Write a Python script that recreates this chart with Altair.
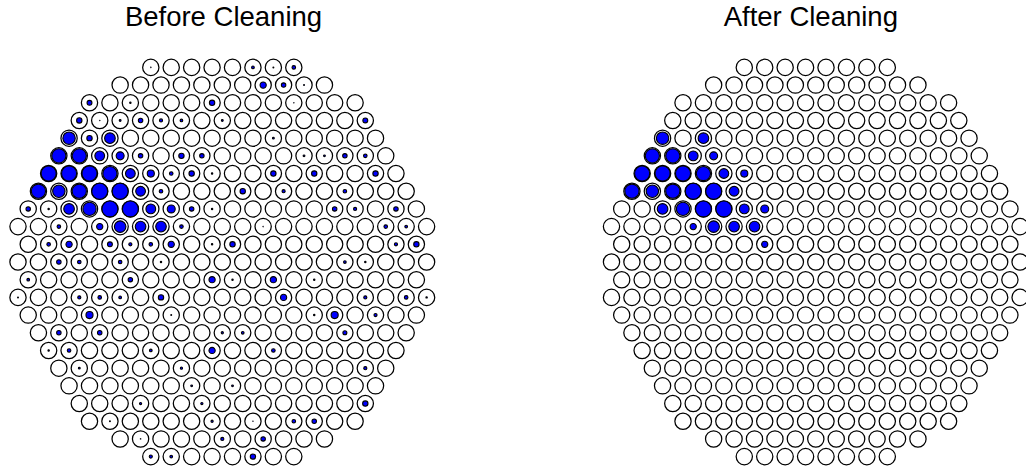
import math

import altair as alt
import pandas as pd

# Camera layout: number of pixels in each hexagonal row, top to bottom
ROW_COUNTS = [8, 11, 14, 15, 16, 17, 18, 19, 20, 21, 20, 21,
              20, 21, 20, 19, 18, 17, 16, 15, 14, 11, 8]

# Pixels with signal in the raw image: row index, column within row, photo-electrons
HIT_ROW = [0, 0, 0, 0,
           1, 1, 1,
           2, 2, 2, 2,
           3, 3, 3, 3, 3, 3, 3, 3,
           4, 4, 4, 4,
           5, 5, 5, 5, 5, 5, 5, 5, 5, 5, 5,
           6, 6, 6, 6, 6, 6, 6, 6, 6, 6, 6, 6,
           7, 7, 7, 7, 7, 7, 7, 7, 7, 7,
           8, 8, 8, 8, 8, 8, 8, 8, 8, 8, 8, 8, 8,
           9, 9, 9, 9, 9, 9, 9, 9, 9,
           10, 10, 10, 10, 10, 10, 10, 10, 10, 10,
           11, 11, 11, 11, 11, 11,
           12, 12, 12, 12, 12, 12,
           13, 13, 13, 13, 13, 13, 13, 13, 13,
           14, 14, 14, 14, 14,
           15, 15, 15, 15, 15,
           16, 16, 16, 16, 16,
           17, 17, 17,
           18, 18,
           19, 19, 19,
           20, 20, 20, 20, 20,
           21, 21, 21,
           22, 22, 22]
HIT_COL = [0, 5, 6, 7,
           7, 8, 9,
           0, 2, 6, 10,
           0, 1, 2, 3, 4, 5, 7, 14,
           0, 1, 2, 10,
           0, 1, 2, 3, 4, 6, 7, 12, 13, 14, 15,
           0, 1, 2, 3, 4, 5, 6, 7, 8, 11, 13, 16,
           0, 1, 2, 3, 4, 5, 6, 10, 12, 15,
           0, 1, 2, 3, 4, 5, 6, 7, 8, 9, 15, 16, 18,
           2, 4, 5, 6, 7, 8, 12, 18, 19,
           1, 2, 4, 5, 6, 7, 9, 10, 18, 19,
           2, 3, 5, 7, 16, 17,
           0, 5, 9, 10, 12, 14,
           0, 3, 4, 5, 7, 13, 17, 19, 20,
           3, 7, 14, 15, 17,
           1, 3, 9, 10, 15,
           0, 1, 5, 8, 11,
           1, 6, 15,
           6, 8,
           3, 6, 14,
           1, 6, 8, 10, 11,
           1, 5, 7,
           0, 1, 5]
HIT_PE = [0.1, 2.6, 0.3, 4.7,
          14.3, 7.3, 0.3,
          8.8, 0.7, 10.5, 0.1,
          10.5, 0.1, 1.2, 7.3, 3.6, 2.6, 1.2, 8.8,
          57.0, 10.5, 41.9, 1.2,
          74.5, 74.5, 35.2, 23.6, 7.3, 10.5, 7.3, 1.2, 1.2, 7.3, 4.7,
          84.1, 84.1, 84.1, 74.5, 35.2, 18.6, 4.7, 10.5, 0.7, 10.5, 10.5, 10.5,
          74.5, 57.0, 74.5, 94.3, 94.3, 35.2, 4.7, 10.5, 3.6, 4.7,
          7.3, 0.7, 41.9, 65.5, 94.3, 94.3, 35.2, 23.6, 7.3, 0.7, 7.3, 3.6, 7.3,
          4.7, 14.3, 49.2, 41.9, 41.9, 4.7, 0.1, 4.7, 2.6,
          4.7, 14.3, 8.8, 3.6, 4.7, 14.3, 0.7, 10.5, 3.6, 10.5,
          7.3, 4.7, 4.7, 0.7, 2.6, 0.7,
          2.6, 7.3, 14.3, 0.7, 14.3, 0.7,
          0.3, 3.6, 4.7, 2.6, 10.5, 14.3, 3.6, 4.7, 0.7,
          18.6, 0.3, 0.7, 18.6, 3.6,
          7.3, 7.3, 1.8, 2.6, 5.9,
          0.7, 4.7, 2.6, 14.3, 4.7,
          1.2, 1.8, 3.6,
          1.2, 1.2,
          1.8, 1.8, 10.5,
          0.3, 1.8, 0.1, 4.7, 7.3,
          0.1, 3.6, 7.3,
          3.6, 2.6, 10.5]

# Pixels that survive the image cleaning
KEPT_ROW = [4, 4, 5, 5, 5, 5, 6, 6, 6, 6, 6, 6, 7, 7, 7, 7, 7, 7,
            8, 8, 8, 8, 8, 8, 9, 9, 9, 9, 10]
KEPT_COL = [0, 2, 0, 1, 2, 3, 0, 1, 2, 3, 4, 5, 0, 1, 2, 3, 4, 5,
            2, 3, 4, 5, 6, 7, 4, 5, 6, 7, 7]

PANEL_TITLES = ["Before Cleaning", "After Cleaning"]

# Drawing geometry (screen pixels)
WIDTH, HEIGHT = 1026, 469
PITCH_PX = 20.43             # distance between neighbouring pixel centres
LEFT_CENTER_PX = 222.3       # horizontal centre of the first camera
PANEL_GAP_PX = 593.5         # horizontal distance between the two cameras
MID_ROW_PX = 262.0           # vertical centre of the camera
TITLE_X_PX = [223.5, 810.8]  # centres of the panel headings
CENTER_ROW = 11
PANEL_GAP = PANEL_GAP_PX / PITCH_PX

signal = {(r, c): pe for r, c, pe in zip(HIT_ROW, HIT_COL, HIT_PE)}
kept = set(zip(KEPT_ROW, KEPT_COL))

records = []
for p, title in enumerate(PANEL_TITLES):
    for r, n in enumerate(ROW_COUNTS):
        for c in range(n):
            pe = signal.get((r, c), 0.0)
            if p == 1 and (r, c) not in kept:
                pe = 0.0
            records.append({
                "panel": title,
                "x": c - (n - 1) / 2 + p * PANEL_GAP,
                "y": (CENTER_ROW - r) * math.sqrt(3) / 2,
                "pe": pe,
            })
pixels = pd.DataFrame(records)

x_scale = alt.Scale(domain=[-LEFT_CENTER_PX / PITCH_PX,
                            (WIDTH - LEFT_CENTER_PX) / PITCH_PX],
                    nice=False, zero=False)
y_scale = alt.Scale(domain=[-(HEIGHT - MID_ROW_PX) / PITCH_PX,
                            MID_ROW_PX / PITCH_PX],
                    nice=False, zero=False)
X = alt.X("x:Q", scale=x_scale, axis=None)
Y = alt.Y("y:Q", scale=y_scale, axis=None)

# empty pixel outlines
outline = alt.Chart(pixels).mark_point(
    shape="circle", filled=False, size=265, stroke="black",
    strokeWidth=1.25, opacity=1,
).encode(x=X, y=Y)

# charge in each pixel, area proportional to photo-electrons
charge = alt.Chart(pixels).transform_filter("datum.pe > 0").mark_point(
    shape="circle", filled=True, fill="#0000ff", stroke="black",
    strokeWidth=1.1, opacity=1,
).encode(
    x=X, y=Y,
    size=alt.Size("pe:Q", scale=alt.Scale(domain=[0, 100], range=[0, 270]),
                  legend=None),
)

# one heading above each camera
headings = [
    alt.Chart(pd.DataFrame({"title": [t]})).mark_text(
        font="Liberation Sans", fontSize=27.5, baseline="alphabetic",
        align="center", color="black",
    ).encode(x=alt.value(px), y=alt.value(26), text="title:N")
    for t, px in zip(PANEL_TITLES, TITLE_X_PX)
]

chart = alt.layer(outline, charge, *headings).properties(
    width=WIDTH, height=HEIGHT,
    autosize=alt.AutoSizeParams(type="none"),
    padding=0,
).configure_view(stroke=None)

chart.save("out.html", embed_options={"renderer": "svg", "actions": False})
